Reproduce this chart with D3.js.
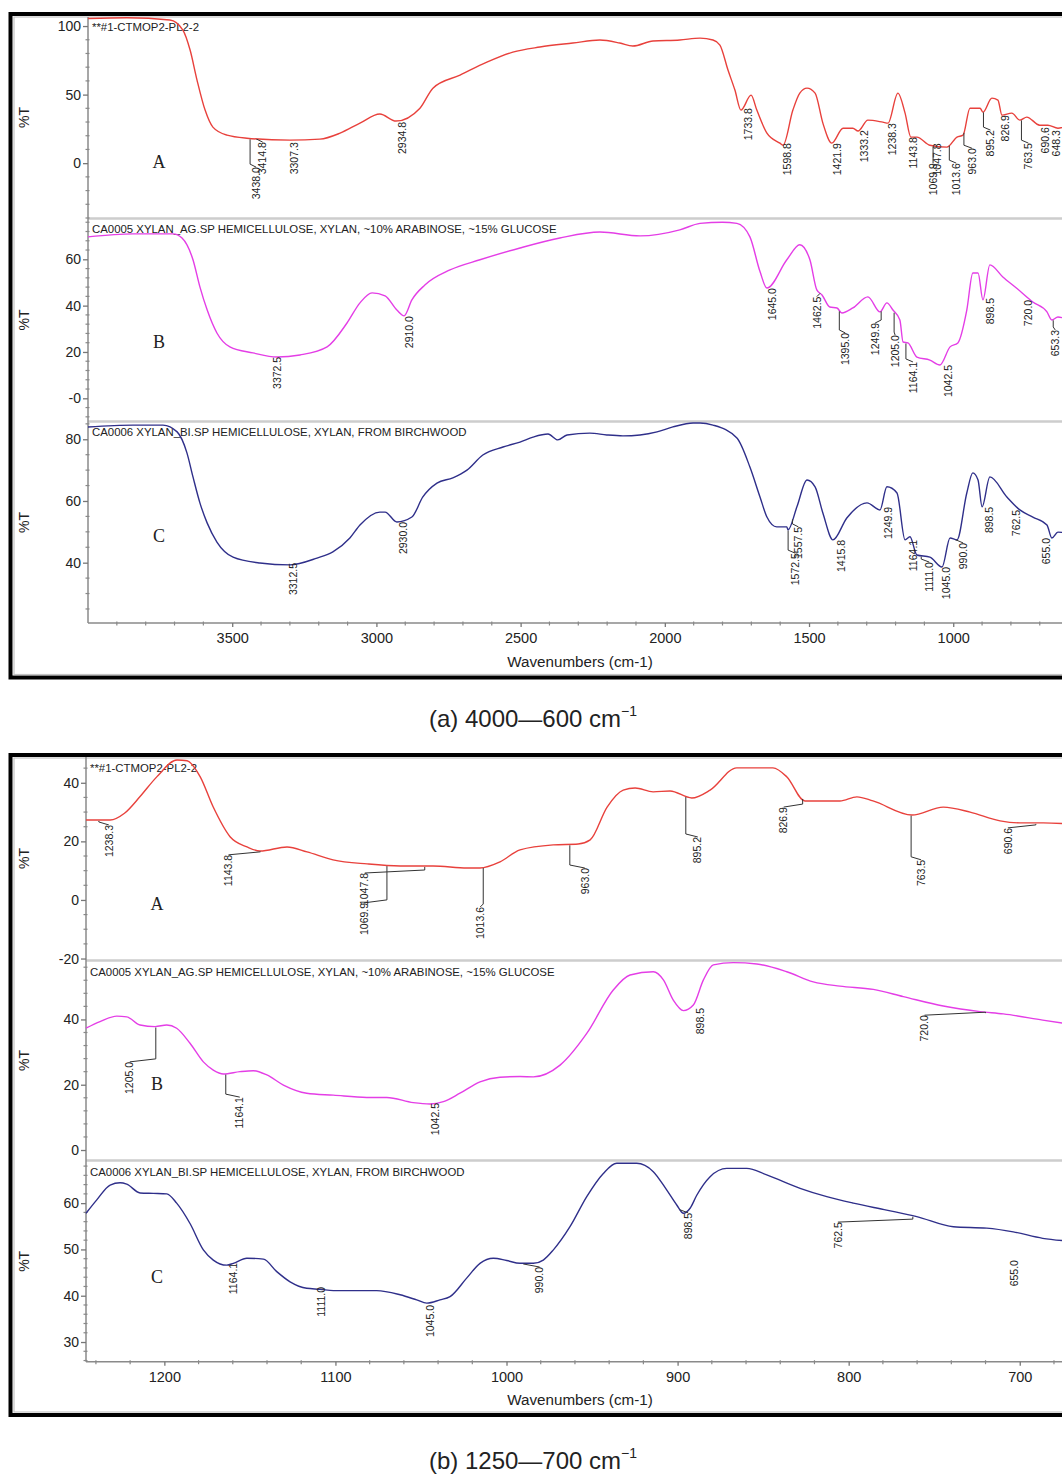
<!DOCTYPE html>
<html>
<head>
<meta charset="utf-8">
<script src="https://cdn.jsdelivr.net/npm/d3@7"></script>
<style>
body { margin: 0; background: #fff; }
svg text { font-family: "Liberation Sans", Arial, sans-serif; }
</style>
</head>
<body>
<svg id="chart" width="1062" height="1478"></svg>
<script>
// ---- spectra: [wavenumber cm-1, %T] ----
// panel (a) 4000-600
var specA_a = [[4000,105.5],[3865,106],[3716,104.4],[3671,97.1],[3646,82.5],[3622,60.6],[3594,38.7],[3567,26.3],[3518,20.4],[3449,18.2],[3300,16.8],[3196,17.5],[3126,21.9],[3057,29.2],[2988,35.8],[2932,30.7],[2849,40.1],[2804,54.7],[2710,64.2],[2617,73.7],[2527,81.0],[2433,84.7],[2319,87.6],[2225,89.8],[2156,87.6],[2111,85.4],[2041,89.1],[1948,89.8],[1878,91.2],[1833,89.8],[1809,86.1],[1781,67.9],[1757,53.3],[1736,38.7],[1701,49.6],[1681,38.7],[1646,21.9],[1601,14.6],[1590,13.1],[1556,38.7],[1532,51.1],[1507,54.7],[1479,51.1],[1452,29.2],[1421,14.6],[1382,25.5],[1348,25.5],[1330,23.4],[1296,31.4],[1244,29.9],[1226,29.2],[1192,51.1],[1167,36.5],[1147,19.0],[1126,19.0],[1081,13.1],[1022,11.7],[987,19.0],[966,20.4],[942,40.1],[907,40.1],[897,37.2],[866,47.4],[845,46.0],[831,35.0],[797,36.5],[769,31.4],[745,33.6],[700,27.7],[672,27.7],[637,25.5],[600,27.7]];
var specB_a = [[4000,69.7],[3844,71.0],[3705,71.0],[3674,69.2],[3636,59.8],[3612,48.1],[3587,38.2],[3553,28.2],[3508,22.2],[3428,19.6],[3345,17.8],[3265,18.7],[3171,22.2],[3102,32.5],[3057,41.2],[3015,45.5],[2970,44.2],[2929,38.1],[2904,35.6],[2877,42.5],[2832,48.9],[2745,55.4],[2641,59.8],[2502,64.9],[2364,69.2],[2225,71.8],[2086,70.1],[1948,72.7],[1878,75.5],[1800,76],[1750,75.5],[1705,69.7],[1670,54.7],[1646,47.6],[1577,59.8],[1532,66.3],[1497,59.8],[1473,46.8],[1455,44.6],[1428,39.4],[1403,39.0],[1386,36.8],[1348,39.0],[1296,43.8],[1254,37.3],[1230,41.2],[1209,38.1],[1185,33.8],[1174,24.3],[1157,23.9],[1126,17.8],[1081,16.5],[1046,14.4],[1011,22.2],[984,23.9],[953,38.1],[932,54.1],[914,54.1],[897,42.5],[873,57.6],[828,52.4],[781,47.6],[724,41.6],[675,37.3],[658,33.8],[637,35.1],[600,33.8]];
var specC_a = [[4000,84.0],[3844,84.6],[3740,84.6],[3691,82.4],[3657,75.6],[3636,67.8],[3612,59.4],[3587,52.9],[3553,46.7],[3497,41.8],[3404,39.9],[3300,39.3],[3206,41.5],[3151,43.5],[3092,48.0],[3057,52.2],[2988,56.4],[2970,56.4],[2929,53.2],[2877,54.8],[2839,61.3],[2790,65.8],[2735,67.5],[2686,70.0],[2631,74.9],[2561,77.5],[2502,79.1],[2457,80.7],[2405,81.7],[2371,79.8],[2339,81.4],[2260,82.0],[2201,81.4],[2145,81.1],[2086,81.4],[2027,82.4],[1972,84.0],[1902,85.3],[1878,85.3],[1833,84.6],[1750,80.4],[1705,71.0],[1670,61.3],[1646,54.8],[1612,51.6],[1577,51.6],[1573,50.6],[1542,58.1],[1507,66.8],[1479,64.6],[1452,56.1],[1417,47.4],[1369,54.5],[1299,59.4],[1254,57.1],[1230,64.6],[1195,62.6],[1167,47.4],[1150,48.4],[1126,42.5],[1081,41.8],[1039,38.6],[1011,48.0],[987,47.4],[953,62.6],[932,69.1],[914,66.8],[900,58.1],[873,67.8],[814,61.3],[769,57.1],[724,54.8],[675,52.2],[658,48.0],[637,49.9],[600,49.6]];

// panel (b) 1250-700
var specA_b = [[1245.8,27.3],[1231.7,27.3],[1223.3,29.6],[1214.2,35.3],[1204.3,42.1],[1192.6,47.8],[1186.7,47.5],[1179.1,42.1],[1171.5,31.8],[1161.6,21.6],[1151.7,18.1],[1144.1,16.7],[1128.3,18.1],[1116.6,16.4],[1101.4,13.7],[1081.5,12.3],[1062.2,11.6],[1042.9,11.6],[1023.0,10.9],[1015.5,10.9],[1003.8,13.0],[992.1,17.1],[972.7,18.8],[958.1,19.1],[951.1,20.5],[941.2,31.7],[931.8,37.5],[924.8,38.2],[914.3,36.9],[904.4,37.2],[891.7,34.8],[881.0,37.5],[865.4,45.1],[844.3,45.1],[836.1,42.0],[825.6,33.8],[805.1,33.8],[795.2,35.2],[785.8,33.8],[763.0,29.0],[744.7,31.7],[729.0,30.0],[711.5,27.0],[699.8,26.3],[686.3,26.3],[671.8,26.0]];
var specB_b = [[1245.8,37.3],[1237.6,39.3],[1227.8,41.0],[1222.0,40.8],[1214.2,38.3],[1205.4,37.8],[1198.6,38.3],[1192.8,37.3],[1185.0,32.7],[1177.2,27.0],[1171.4,24.5],[1165.5,23.3],[1155.8,24.0],[1148.0,24.3],[1140.1,23.0],[1130.4,19.9],[1116.8,17.4],[1101.2,16.8],[1081.7,16.1],[1070.0,16.1],[1054.5,14.5],[1044.7,14.1],[1036.9,14.8],[1027.2,17.4],[1015.5,20.9],[1003.8,22.3],[992.1,22.5],[984.3,22.4],[968.7,26.0],[953.1,35.7],[937.6,49.0],[927.8,53.6],[914.2,54.6],[908.3,52.1],[902.5,45.9],[896.6,42.7],[890.8,44.4],[884.9,52.1],[879.1,56.7],[867.4,57.4],[853.7,57.0],[836.2,54.6],[820.7,51.5],[805.1,50.2],[785.6,49.2],[768.1,47.0],[744.7,44.1],[723.2,42.4],[709.6,41.7],[686.6,39.8],[671.8,38.6]];
var specC_b = [[1245.8,57.8],[1239.5,60.7],[1231.7,63.9],[1225.9,64.4],[1222.0,64.1],[1214.2,62.2],[1206.4,62.1],[1198.6,62.0],[1192.8,60.0],[1185.0,55.6],[1177.2,49.9],[1171.4,47.7],[1163.5,46.6],[1159.7,47.0],[1151.8,48.1],[1142.1,47.9],[1134.3,45.2],[1126.5,43.0],[1116.8,41.6],[1109.0,41.4],[1101.2,41.1],[1075.9,41.1],[1062.2,40.2],[1052.5,39.1],[1046.6,38.4],[1038.9,39.1],[1033.0,39.8],[1023.3,43.8],[1015.5,47.0],[1007.7,48.1],[999.9,47.6],[992.1,47.0],[984.3,47.0],[978.5,47.7],[972.6,49.9],[962.9,54.9],[953.1,61.4],[943.4,66.4],[935.6,68.6],[923.9,68.6],[914.2,66.8],[906.3,62.8],[900.5,59.6],[896.6,57.8],[892.7,58.9],[888.8,61.7],[881.0,65.7],[871.3,67.5],[859.6,67.5],[847.9,66.1],[828.4,63.2],[812.8,61.4],[797.3,60.0],[777.8,58.5],[760.2,57.1],[738.8,54.9],[719.3,54.6],[703.8,53.8],[686.6,52.4],[671.8,51.8]];

// peak labels (wavenumbers as printed)
var peaksA_a = [3438.0,3414.8,3307.3,2934.8,1733.8,1598.8,1421.9,1333.2,1238.3,1143.8,1069.9,1047.8,1013.6,963.0,895.2,826.9,763.5,690.6,648.3];
var peaksB_a = [3372.5,2910.0,1645.0,1462.5,1395.0,1249.9,1205.0,1164.1,1042.5,898.5,720.0,653.3];
var peaksC_a = [3312.5,2930.0,1572.5,1557.5,1415.8,1249.9,1164.1,1111.0,1045.0,990.0,898.5,762.5,655.0];
var peaksA_b = [1238.3,1143.8,1069.9,1047.8,1013.6,963.0,895.2,826.9,763.5,690.6];
var peaksB_b = [1205.0,1164.1,1042.5,898.5,720.0];
var peaksC_b = [1164.1,1111.0,1045.0,990.0,898.5,762.5,655.0];

// label placement: [%T where the label starts, horizontal shift in px]
var placeA_a = [[-2.9,6],[15.3,6],[15.3,7],[30.1,7],[40.1,7],[14.6,7],[14.6,6],[24.1,7],[29.2,8],[19.0,2],[0,0],[14.4,-2],[0,7],[10.9,8],[24.1,7],[35.0,2],[14.6,7],[26.3,3],[24.1,2]];
var placeB_a = [[17.9,8],[35.5,7],[47.6,5],[43.9,-3],[28.2,6],[32.5,-6],[27.3,1],[15.7,7],[14.4,7],[43.3,8],[42.5,-6],[29.5,2]];
var placeC_a = [[39.9,7],[53.2,7],[43.1,7],[51.6,6],[47.4,8],[58.1,7],[47.4,7],[40.2,8],[38.6,6],[46.4,7],[58.1,7],[57.1,-5],[48.0,-6]];
var placeA_b = [[25.6,10],[15.4,-32],[-1.0,-23],[9.2,-60],[-2.4,-3],[10.9,15],[21.5,12],[31.7,-19],[13.7,10],[24.6,-28]];
var placeB_b = [[27.0,-26],[16.2,14],[14.4,2],[43.5,20],[41.3,-61]];
var placeC_b = [[47.1,8],[41.9,5],[38.0,1],[46.2,16],[57.9,8],[55.9,-75],[47.7,-82]];

var xTicks_a = [3500,3000,2500,2000,1500,1000];
var xTicks_b = [1200,1100,1000,900,800,700];

var headers = ["**#1-CTMOP2-PL2-2",
  "CA0005 XYLAN_AG.SP HEMICELLULOSE, XYLAN, ~10% ARABINOSE, ~15% GLUCOSE",
  "CA0006 XYLAN_BI.SP HEMICELLULOSE, XYLAN, FROM BIRCHWOOD"];
var letters = ["A", "B", "C"];
var colors = ["#e8413c", "#e43ee6", "#2f2f8a"];

var svg = d3.select("#chart");

function interp(series, w) {
  for (var i = 0; i < series.length - 1; i++) {
    var a = series[i], b = series[i + 1];
    if (w <= a[0] && w >= b[0]) {
      return a[1] + (a[0] - w) / (a[0] - b[0]) * (b[1] - a[1]);
    }
  }
  return series[series.length - 1][1];
}

var panels = [
  {
    frameTop: 14, frameBottom: 677.5, left: 88,
    x: d3.scaleLinear().domain([4000, 600]).range([88, 1068.6]),
    xTicks: xTicks_a, xMinor: 100, axisY: 623, xLabelY: 667,
    caption: "(a) 4000\u2014600 cm", captionY: 727, headDy: 14,
    rows: [
      {top: 17, bottom: 218, dom: [-40, 106.6], ticks: [100, 50, 0], labels: ["100", "50", "0"], minor: 10,
       data: specA_a, peaks: peaksA_a, place: placeA_a, letterV: -3.6},
      {top: 219, bottom: 421, dom: [-9.8, 77.4], ticks: [60, 40, 20, 0], labels: ["60", "40", "20", "-0"], minor: 4,
       data: specB_a, peaks: peaksB_a, place: placeB_a, letterV: 21.7},
      {top: 422, bottom: 623, dom: [20.45, 85.6], ticks: [80, 60, 40], labels: ["80", "60", "40"], minor: 5,
       data: specC_a, peaks: peaksC_a, place: placeC_a, letterV: 46.7}
    ]
  },
  {
    frameTop: 755, frameBottom: 1415, left: 86,
    x: d3.scaleLinear().domain([1245.8, 671.8]).range([86, 1068]),
    xTicks: xTicks_b, xMinor: 20, axisY: 1361.7, xLabelY: 1405,
    caption: "(b) 1250\u2014700 cm", captionY: 1469, headDy: 15,
    rows: [
      {top: 757, bottom: 960, dom: [-20.5, 48.8], ticks: [40, 20, 0, -20], labels: ["40", "20", "0", "-20"], minor: 5,
       data: specA_b, peaks: peaksA_b, place: placeA_b, letterV: -3.4},
      {top: 961, bottom: 1160, dom: [-3.06, 57.9], ticks: [40, 20, 0], labels: ["40", "20", "0"], minor: 4,
       data: specB_b, peaks: peaksB_b, place: placeB_b, letterV: 18.4},
      {top: 1161, bottom: 1361.7, dom: [25.75, 69.1], ticks: [60, 50, 40, 30], labels: ["60", "50", "40", "30"], minor: 2,
       data: specC_b, peaks: peaksC_b, place: placeC_b, letterV: 42.7}
    ]
  }
];

panels.forEach(function (p) {
  var g = svg.append("g");
  var x = p.x;
  var right = 1062;

  // outer frame
  g.append("rect").attr("x", 10.5).attr("y", p.frameTop)
    .attr("width", 1100).attr("height", p.frameBottom - p.frameTop)
    .attr("fill", "none").attr("stroke", "#000").attr("stroke-width", 4);
  g.append("rect").attr("x", 14).attr("y", p.frameTop + 3)
    .attr("width", 1100).attr("height", p.frameBottom - p.frameTop - 6)
    .attr("fill", "none").attr("stroke", "#c4c4c4").attr("stroke-width", 1.2);

  // separators between stacked spectra
  p.rows.slice(0, 2).forEach(function (r) {
    g.append("line").attr("x1", p.left).attr("x2", right)
      .attr("y1", r.bottom + 0.5).attr("y2", r.bottom + 0.5)
      .attr("stroke", "#cdcdcd").attr("stroke-width", 2.5);
  });

  // left axis line
  g.append("line").attr("x1", p.left).attr("x2", p.left)
    .attr("y1", p.rows[0].top).attr("y2", p.axisY)
    .attr("stroke", "#8a8a8a").attr("stroke-width", 1.5);

  p.rows.forEach(function (r, ri) {
    var y = d3.scaleLinear().domain(r.dom).range([r.bottom, r.top]);

    var ax = g.append("g").attr("transform", "translate(" + p.left + ",0)")
      .call(d3.axisLeft(y).tickValues(r.ticks)
        .tickFormat(function (d, i) { return r.labels[i]; })
        .tickSize(5).tickPadding(2).tickSizeOuter(0));
    ax.select(".domain").remove();
    ax.selectAll(".tick line").attr("stroke", "#777").attr("stroke-width", 1.3);
    ax.selectAll(".tick text").attr("font-size", 14).attr("fill", "#222")
      .style("font-family", "Liberation Sans, Arial, sans-serif");

    var lo = Math.ceil(r.dom[0] / r.minor) * r.minor;
    var minors = d3.range(lo, r.dom[1], r.minor).filter(function (v) { return r.ticks.indexOf(v) < 0; });
    g.selectAll(null).data(minors).enter().append("line")
      .attr("x1", p.left - 2.5).attr("x2", p.left + 1.5)
      .attr("y1", function (d) { return y(d); }).attr("y2", function (d) { return y(d); })
      .attr("stroke", "#888").attr("stroke-width", 1.2);

    // %T label
    var cy = (r.top + r.bottom) / 2;
    g.append("text").attr("transform", "translate(29," + cy + ") rotate(-90)")
      .attr("text-anchor", "middle").attr("font-size", 14).attr("fill", "#222").text("%T");

    // header
    g.append("text").attr("x", p.left + 4).attr("y", r.top + p.headDy)
      .attr("font-size", 11.4).attr("fill", "#222").text(headers[ri]);

    // letter
    g.append("text").attr("x", p.left + 71).attr("y", y(r.letterV))
      .attr("text-anchor", "middle").attr("font-size", 18).attr("fill", "#222")
      .style("font-family", "Liberation Serif, Times New Roman, serif").text(letters[ri]);

    // spectrum
    var line = d3.line().x(function (d) { return x(d[0]); }).y(function (d) { return y(d[1]); })
      .curve(d3.curveMonotoneX);
    g.append("path").datum(r.data).attr("d", line).attr("fill", "none")
      .attr("stroke", colors[ri]).attr("stroke-width", 1.4).attr("stroke-linejoin", "round");

    // peak labels with leaders
    r.peaks.forEach(function (w, i) {
      var px = x(w), yc = y(interp(r.data, w));
      var yt = y(r.place[i][0]), dx = r.place[i][1];
      if (px < right && yt - yc > 3) {
        g.append("path")
          .attr("d", "M" + px + "," + (yc + 1) + "V" + (yt - 3) + "L" + (px + dx) + "," + yt)
          .attr("fill", "none").attr("stroke", "#333").attr("stroke-width", 1);
      }
      g.append("text").attr("transform", "translate(" + (px + dx) + "," + yt + ") rotate(-90)")
        .attr("text-anchor", "end").attr("dy", "0.35em").attr("font-size", 10.5).attr("fill", "#222")
        .text(w.toFixed(1));
    });
  });

  // x axis
  g.append("line").attr("x1", p.left).attr("x2", right).attr("y1", p.axisY).attr("y2", p.axisY)
    .attr("stroke", "#8a8a8a").attr("stroke-width", 1.5);
  var xa = g.append("g").attr("transform", "translate(0," + p.axisY + ")")
    .call(d3.axisBottom(x).tickValues(p.xTicks).tickSize(4).tickPadding(6).tickSizeOuter(0)
      .tickFormat(d3.format("d")));
  xa.select(".domain").remove();
  xa.selectAll(".tick line").attr("stroke", "#777").attr("stroke-width", 1.3);
  xa.selectAll(".tick text").attr("font-size", 14.5).attr("fill", "#222")
    .style("font-family", "Liberation Sans, Arial, sans-serif");
  var d0 = x.domain();
  var xm = d3.range(Math.floor(d0[0] / p.xMinor) * p.xMinor, d0[1], -p.xMinor)
    .filter(function (v) { return p.xTicks.indexOf(v) < 0 && x(v) > p.left + 2; });
  g.selectAll(null).data(xm).enter().append("line")
    .attr("x1", function (d) { return x(d); }).attr("x2", function (d) { return x(d); })
    .attr("y1", p.axisY - 1.5).attr("y2", p.axisY + 2.5)
    .attr("stroke", "#888").attr("stroke-width", 1.2);

  g.append("text").attr("x", 580).attr("y", p.xLabelY).attr("text-anchor", "middle")
    .attr("font-size", 15.2).attr("fill", "#222").text("Wavenumbers (cm-1)");

  // caption
  var cap = svg.append("text").attr("x", 533).attr("y", p.captionY).attr("text-anchor", "middle")
    .attr("font-size", 24).attr("fill", "#222");
  cap.append("tspan").text(p.caption);
  cap.append("tspan").attr("font-size", 14).attr("dy", -11).text("\u22121");
});
</script>
</body>
</html>
